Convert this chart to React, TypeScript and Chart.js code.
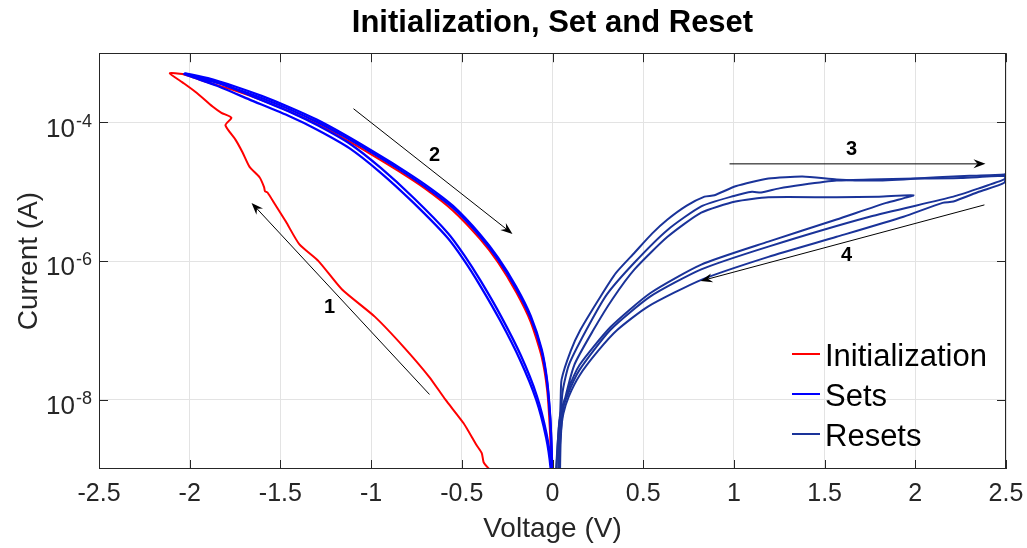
import React, { useEffect, useRef } from 'react';
import { Chart, registerables } from 'chart.js';

Chart.register(...registerables);

// ---------- text ----------
const TITLE = 'Initialization, Set and Reset';
const X_LABEL = 'Voltage (V)';
const Y_LABEL = 'Current (A)';
const LEGEND_LABELS = ['Initialization', 'Sets', 'Resets'];

// ---------- axes ----------
const X_MIN = -2.5;
const X_MAX = 2.5;
const X_STEP = 0.5;
const Y_MIN = 1e-9;
const Y_MAX = 1e-3;
const Y_TICKS = [1e-8, 1e-6, 1e-4];
const Y_TICK_BASE = ['10', '10', '10'];
const Y_TICK_EXP = ['-8', '-6', '-4'];

// ---------- colours ----------
const RED = '#ff0000';
const BLUE = '#0000ff';
const NAVY = '#1a3399';

// ---------- Initialization (red) ----------
const initV = [
  -0.33, -0.36, -0.38, -0.39, -0.42, -0.49, -0.59, -0.68, -0.82, -0.98, -1.16, -1.29, -1.395, -1.47,
  -1.53, -1.571, -1.585, -1.59, -1.615, -1.67, -1.709, -1.747, -1.803, -1.77, -1.825, -1.874, -1.962,
  -2.04, -2.11, -2.04, -1.9, -1.75, -1.6, -1.45, -1.3, -1.15, -1.0, -0.85, -0.7, -0.55, -0.4, -0.3,
  -0.2, -0.12, -0.06, -0.03, -0.015, -0.006, -0.002,
];
const initI = [
  8.9e-10, 1.07e-9, 1.26e-9, 1.7e-9, 2.24e-9, 4.57e-9, 1.0e-8, 2.14e-8, 5.75e-8, 1.58e-7, 3.89e-7,
  1.0e-6, 1.74e-6, 3.72e-6, 6.61e-6, 9.77e-6, 1.02e-5, 1.17e-5, 1.62e-5, 2.29e-5, 3.72e-5, 5.62e-5,
  9.12e-5, 1.17e-4, 1.38e-4, 1.7e-4, 2.69e-4, 3.8e-4, 5.13e-4, 5.01e-4, 3.8e-4, 2.88e-4, 2.09e-4,
  1.45e-4, 9.55e-5, 5.89e-5, 3.47e-5, 2.0e-5, 1.1e-5, 5.37e-6, 2.09e-6, 9.55e-7, 3.55e-7, 1.32e-7,
  4.17e-8, 1.41e-8, 3.98e-9, 1.0e-9, 3.2e-10,
];

// ---------- Sets (blue) ----------
const set1V = [
  0, -0.01, -0.035, -0.09, -0.18, -0.29, -0.4, -0.49, -0.58, -0.77, -0.95, -1.12, -1.3, -1.45, -1.67,
  -1.85, -1.99, -2.03, -1.9, -1.75, -1.6, -1.45, -1.3, -1.15, -1.0, -0.85, -0.7, -0.55, -0.4, -0.3,
  -0.2, -0.12, -0.06, -0.03, -0.012, -0.004, 0.002,
];
const set1I = [
  3.2e-10, 1.0e-9, 2.82e-9, 1.0e-8, 3.8e-8, 1.41e-7, 4.47e-7, 1.05e-6, 2.19e-6, 7.08e-6, 1.91e-5,
  4.27e-5, 7.94e-5, 1.23e-4, 2.14e-4, 3.39e-4, 4.57e-4, 5.01e-4, 4.07e-4, 3.09e-4, 2.24e-4, 1.55e-4,
  1.02e-4, 6.31e-5, 3.72e-5, 2.14e-5, 1.17e-5, 5.89e-6, 2.29e-6, 1.05e-6, 3.98e-7, 1.51e-7, 5.01e-8,
  1.78e-8, 5.01e-9, 1.58e-9, 4.0e-10,
];
const set2V = [
  0.003, -0.008, -0.033, -0.087, -0.175, -0.285, -0.395, -0.485, -0.575, -0.765, -0.945, -1.115,
  -1.295, -1.445, -1.665, -1.845, -1.985, -2.025, -1.9, -1.75, -1.6, -1.45, -1.3, -1.15, -1.0, -0.85,
  -0.7, -0.55, -0.4, -0.3, -0.2, -0.12, -0.06, -0.03, -0.012, -0.004, 0.003,
];
const set2I = [
  3.5e-10, 1.15e-9, 3.24e-9, 1.15e-8, 4.37e-8, 1.62e-7, 5.13e-7, 1.2e-6, 2.51e-6, 8.13e-6, 2.19e-5,
  4.9e-5, 9.12e-5, 1.41e-4, 2.45e-4, 3.8e-4, 4.79e-4, 5.13e-4, 4.37e-4, 3.31e-4, 2.4e-4, 1.66e-4,
  1.1e-4, 6.76e-5, 3.98e-5, 2.29e-5, 1.26e-5, 6.31e-6, 2.45e-6, 1.12e-6, 4.27e-7, 1.62e-7, 5.37e-8,
  1.91e-8, 5.37e-9, 1.7e-9, 4.0e-10,
];

// ---------- Resets (navy) ----------
const reset1V = [
  0.028, 0.032, 0.045, 0.05, 0.1, 0.154, 0.265, 0.35, 0.452, 0.55, 0.634, 0.74, 0.838, 0.893, 1.009,
  1.19, 1.378, 1.566, 1.748, 1.935, 2.122, 2.3, 2.49, 2.5, 2.49, 2.35, 2.21, 2.15, 1.935, 1.566, 1.19,
  0.82, 0.524, 0.358, 0.25, 0.149, 0.09, 0.06, 0.045, 0.035, 0.03,
];
const reset1I = [
  5.0e-10, 1.0e-9, 1.0e-8, 1.95e-8, 5.01e-8, 1.02e-7, 3.09e-7, 6.76e-7, 1.32e-6, 2.51e-6, 3.98e-6,
  6.31e-6, 8.51e-6, 8.91e-6, 1.2e-5, 1.55e-5, 1.66e-5, 1.51e-5, 1.45e-5, 1.51e-5, 1.62e-5, 1.7e-5,
  1.78e-5, 1.82e-5, 1.35e-5, 1.0e-5, 7.24e-6, 6.92e-6, 4.37e-6, 2.24e-6, 1.15e-6, 5.37e-7, 2.19e-7,
  1.02e-7, 5.01e-8, 2.24e-8, 1.12e-8, 6.31e-9, 3.16e-9, 1.0e-9, 4.0e-10,
];
const reset2V = [
  0.035, 0.04, 0.055, 0.09, 0.187, 0.3, 0.452, 0.634, 0.82, 1.0, 1.1, 1.15, 1.25, 1.378, 1.566, 1.75,
  2.0, 2.25, 2.5, 2.49, 2.35, 2.21, 1.748, 1.19, 0.82, 0.54, 0.32, 0.149, 0.08, 0.04, 0.02, 0.017,
];
const reset2I = [
  5.0e-10, 2.51e-9, 1.26e-8, 3.16e-8, 1.02e-7, 3.31e-7, 9.55e-7, 2.82e-6, 6.17e-6, 8.71e-6, 1.0e-5,
  9.77e-6, 1.12e-5, 1.26e-5, 1.45e-5, 1.51e-5, 1.55e-5, 1.58e-5, 1.7e-5, 1.51e-5, 1.12e-5, 8.51e-6,
  4.37e-6, 1.62e-6, 7.59e-7, 3.09e-7, 1.02e-7, 2.69e-8, 1.12e-8, 5.13e-9, 1.0e-9, 4.0e-10,
];
const reset3V = [
  0.04, 0.045, 0.06, 0.12, 0.226, 0.33, 0.452, 0.634, 0.82, 1.009, 1.19, 1.566, 1.8, 1.99, 1.84, 1.566,
  1.19, 0.82, 0.54, 0.32, 0.149, 0.08, 0.04, 0.022, 0.019,
];
const reset3I = [
  5.0e-10, 2.51e-9, 7.94e-9, 3.16e-8, 1.02e-7, 2.82e-7, 7.59e-7, 2.24e-6, 5.01e-6, 7.24e-6, 8.32e-6,
  8.32e-6, 8.51e-6, 8.91e-6, 6.92e-6, 3.98e-6, 1.91e-6, 8.91e-7, 3.47e-7, 1.12e-7, 3.16e-8, 1.26e-8,
  5.62e-9, 1.0e-9, 4.0e-10,
];

// ---------- annotation arrows (data coordinates) ----------
const ARROW_LABELS = ['1', '2', '3', '4'];
const ARROW_FROM_V = [-0.678, -1.097, 0.976, 2.381];
const ARROW_FROM_I = [1.19e-8, 1.58e-4, 2.53e-5, 6.47e-6];
const ARROW_TO_V = [-1.659, -0.2205, 2.387, 0.816];
const ARROW_TO_I = [6.92e-6, 2.47e-6, 2.53e-5, 5.16e-7];
const LABEL_V = [-1.229, -0.65, 1.648, 1.621];
const LABEL_I = [2.17e-7, 3.3e-5, 4.04e-5, 1.22e-6];

const FONT = '"Liberation Sans", Arial, Helvetica, sans-serif';
const AXIS_COLOR = '#262626';
const GRID_COLOR = '#e3e3e3';

const pts = (v: number[], i: number[]) => v.map((x, k) => ({ x, y: i[k] }));

function drawArrow(ctx: CanvasRenderingContext2D, x0: number, y0: number, x1: number, y1: number) {
  const ang = Math.atan2(y1 - y0, x1 - x0);
  const c = Math.cos(ang);
  const s = Math.sin(ang);
  const L = 12;
  const W = 4.5;
  const N = 8;
  ctx.beginPath();
  ctx.moveTo(x0, y0);
  ctx.lineTo(x1 - N * c, y1 - N * s);
  ctx.stroke();
  ctx.beginPath();
  ctx.moveTo(x1, y1);
  ctx.lineTo(x1 - L * c + W * s, y1 - L * s - W * c);
  ctx.lineTo(x1 - N * c, y1 - N * s);
  ctx.lineTo(x1 - L * c - W * s, y1 - L * s + W * c);
  ctx.closePath();
  ctx.fill();
}

const decorPlugin = {
  id: 'decor',
  afterDraw(chart: any) {
    const { ctx, chartArea: a, scales } = chart;
    const xs = scales.x;
    const ys = scales.y;
    ctx.save();

    // arrows + numbers
    ctx.strokeStyle = '#000';
    ctx.fillStyle = '#000';
    ctx.lineWidth = 1;
    for (let k = 0; k < ARROW_LABELS.length; k++) {
      drawArrow(
        ctx,
        xs.getPixelForValue(ARROW_FROM_V[k]),
        ys.getPixelForValue(ARROW_FROM_I[k]),
        xs.getPixelForValue(ARROW_TO_V[k]),
        ys.getPixelForValue(ARROW_TO_I[k])
      );
      ctx.font = `bold 20px ${FONT}`;
      ctx.textAlign = 'center';
      ctx.textBaseline = 'middle';
      ctx.fillText(ARROW_LABELS[k], xs.getPixelForValue(LABEL_V[k]), ys.getPixelForValue(LABEL_I[k]));
    }

    // box
    ctx.strokeStyle = AXIS_COLOR;
    ctx.lineWidth = 1;
    ctx.strokeRect(Math.round(a.left) + 0.5, Math.round(a.top) + 0.5, Math.round(a.width) - 1, Math.round(a.height) - 1);

    // inward ticks
    const TL = 9;
    ctx.beginPath();
    for (let v = X_MIN; v <= X_MAX + 1e-9; v += X_STEP) {
      const px = Math.round(xs.getPixelForValue(v)) + 0.5;
      ctx.moveTo(px, a.bottom);
      ctx.lineTo(px, a.bottom - TL);
      ctx.moveTo(px, a.top);
      ctx.lineTo(px, a.top + TL);
    }
    for (const v of Y_TICKS) {
      const py = Math.round(ys.getPixelForValue(v)) + 0.5;
      ctx.moveTo(a.left, py);
      ctx.lineTo(a.left + TL, py);
      ctx.moveTo(a.right, py);
      ctx.lineTo(a.right - TL, py);
    }
    ctx.stroke();

    // y tick labels with superscript exponent
    ctx.fillStyle = AXIS_COLOR;
    ctx.textAlign = 'right';
    ctx.textBaseline = 'alphabetic';
    Y_TICKS.forEach((v, k) => {
      const py = ys.getPixelForValue(v);
      const right = a.left - 7;
      ctx.font = `18px ${FONT}`;
      const ew = ctx.measureText(Y_TICK_EXP[k]).width;
      ctx.fillText(Y_TICK_EXP[k], right, py + 4);
      ctx.font = `26px ${FONT}`;
      ctx.fillText(Y_TICK_BASE[k], right - ew - 1, py + 14);
    });

    // legend (inside, lower right)
    const rows = [a.bottom - 115, a.bottom - 75, a.bottom - 35];
    const colors = [RED, BLUE, NAVY];
    ctx.textAlign = 'left';
    ctx.textBaseline = 'alphabetic';
    ctx.font = `31px ${FONT}`;
    LEGEND_LABELS.forEach((lab, k) => {
      ctx.strokeStyle = colors[k];
      ctx.lineWidth = 2;
      ctx.beginPath();
      ctx.moveTo(a.right - 214, rows[k]);
      ctx.lineTo(a.right - 186, rows[k]);
      ctx.stroke();
      ctx.fillStyle = '#000';
      ctx.fillText(lab, a.right - 181, rows[k] + 12);
    });

    ctx.restore();
  },
};

export default function App() {
  const ref = useRef<HTMLCanvasElement>(null);

  useEffect(() => {
    document.body.style.margin = '0';
    const line = (data: any, color: string, width: number, order: number) => ({
      data,
      borderColor: color,
      backgroundColor: color,
      borderWidth: width,
      pointRadius: 0,
      showLine: true,
      fill: false,
      tension: 0.2,
      order,
    });
    const chart = new Chart(ref.current as HTMLCanvasElement, {
      type: 'scatter',
      data: {
        datasets: [
          line(pts(initV, initI), RED, 2, 3),
          line(pts(set1V, set1I), BLUE, 2.3, 2),
          line(pts(set2V, set2I), BLUE, 2.3, 2),
          line(pts(reset1V, reset1I), NAVY, 2, 1),
          line(pts(reset2V, reset2I), NAVY, 2, 1),
          line(pts(reset3V, reset3I), NAVY, 2, 1),
        ],
      },
      options: {
        responsive: false,
        animation: false,
        events: [],
        layout: { padding: { left: 0, right: 21, top: 0, bottom: 0 } },
        plugins: {
          legend: { display: false },
          tooltip: { enabled: false },
          title: {
            display: true,
            fullSize: false,
            text: TITLE,
            color: '#000',
            font: { family: FONT, size: 31, weight: 'bold' },
            padding: { top: 5, bottom: 11 },
          },
        },
        scales: {
          x: {
            type: 'linear',
            min: X_MIN,
            max: X_MAX,
            ticks: {
              stepSize: X_STEP,
              color: AXIS_COLOR,
              font: { family: FONT, size: 25 },
              padding: 10,
              maxRotation: 0,
              autoSkip: false,
              callback: (v: any) => String(v),
            },
            grid: { color: GRID_COLOR, drawTicks: false, lineWidth: 1 },
            border: { display: false },
            title: {
              display: true,
              text: X_LABEL,
              color: AXIS_COLOR,
              font: { family: FONT, size: 28 },
              padding: { top: 0, bottom: 2 },
            },
            afterFit: (s: any) => {
              s.height = 79;
              s.paddingLeft = 0;
              s.paddingRight = 0;
            },
          },
          y: {
            type: 'logarithmic',
            min: Y_MIN,
            max: Y_MAX,
            afterBuildTicks: (s: any) => {
              s.ticks = Y_TICKS.map((value) => ({ value }));
            },
            ticks: { display: false },
            grid: { color: GRID_COLOR, drawTicks: false, lineWidth: 1 },
            border: { display: false },
            title: {
              display: true,
              text: Y_LABEL,
              color: AXIS_COLOR,
              font: { family: FONT, size: 28 },
              padding: { top: 12, bottom: 0 },
            },
            afterFit: (s: any) => {
              s.width = 99;
              s.paddingTop = 0;
              s.paddingBottom = 0;
            },
          },
        },
      } as any,
      plugins: [decorPlugin],
    });
    return () => chart.destroy();
  }, []);

  return (
    <div style={{ position: 'fixed', left: 0, top: 0, width: 1027, height: 548, background: '#fff' }}>
      <canvas ref={ref} width={1027} height={548} style={{ display: 'block', width: 1027, height: 548 }} />
    </div>
  );
}
